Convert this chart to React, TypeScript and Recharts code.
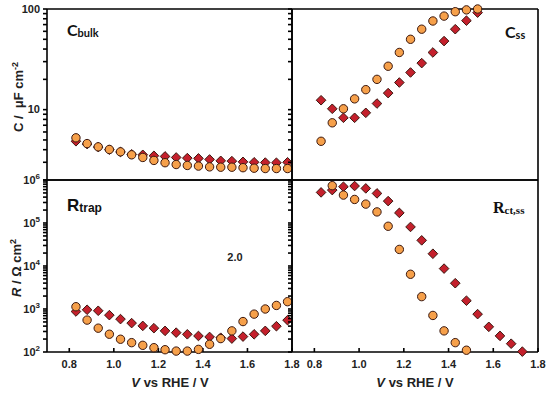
import { ScatterChart, Scatter, XAxis, YAxis } from "recharts";

// applied potential, V vs RHE
const V = [0.83, 0.88, 0.93, 0.98, 1.03, 1.08, 1.13, 1.18, 1.23, 1.28, 1.33, 1.38, 1.43, 1.48, 1.53, 1.58, 1.63, 1.68, 1.73, 1.78];

// capacitances, uF cm-2
const cBulkCircle = [5.25, 4.6, 4.27, 4.02, 3.81, 3.56, 3.35, 3.13, 2.97, 2.85, 2.79, 2.75, 2.7, 2.68, 2.68, 2.65, 2.62, 2.6, 2.6, 2.6];
const cBulkDiamond = [4.85, 4.55, 4.25, 4.0, 3.8, 3.6, 3.56, 3.48, 3.43, 3.35, 3.3, 3.28, 3.2, 3.1, 3.08, 3.03, 3.0, 2.98, 2.97, 3.0];
const cSsCircle = [4.85, 7.4, 10.2, 12.8, 15.8, 20, 27, 37, 50, 63, 76, 85, 94, 98, 100];
const cSsDiamond = [12.4, 10.2, 8.3, 8.3, 9.3, 11.5, 14.6, 18.6, 23.4, 29, 37, 48, 63, 76.6, 92];

// resistances, Ohm cm2
const rTrapCircle = [1130, 552, 358, 259, 198, 165, 143, 126, 113, 105, 105, 115, 151, 205, 310, 510, 760, 1000, 1210, 1480];
const rTrapDiamond = [875, 960, 910, 720, 582, 470, 405, 358, 310, 282, 258, 236, 224, 215, 205, 228, 258, 310, 398, 550];
const rCtCircle = [null, 738000, 446000, 353000, 275000, 181000, 84000, 24300, 6420, 1940, 708, 310, 165, 110];
const rCtDiamond = [515000, 583000, 698000, 724000, 638000, 488000, 323000, 172000, 81000, 39500, 19300, 8700, 3980, 1560, 760, 385, 237, 156, 102];

const xTicks = [0.8, 1.0, 1.2, 1.4, 1.6, 1.8];
const cTicks = [2, 3, 4, 5, 6, 7, 8, 9, 10, 20, 30, 40, 50, 60, 70, 80, 90, 100];
const rTicks = [
  100, 200, 300, 400, 500, 600, 700, 800, 900,
  1e3, 2e3, 3e3, 4e3, 5e3, 6e3, 7e3, 8e3, 9e3,
  1e4, 2e4, 3e4, 4e4, 5e4, 6e4, 7e4, 8e4, 9e4,
  1e5, 2e5, 3e5, 4e5, 5e5, 6e5, 7e5, 8e5, 9e5, 1e6,
];

const ORANGE = "#F6A04A";
const RED = "#C4202C";
const EDGE = "#3a1810";
const FONT = "'Liberation Sans', Arial, sans-serif";

const toPoints = (ys: (number | null)[]) =>
  ys.map((y, i) => ({ x: V[i], y })).filter((d) => d.y != null);

const Dot = (p: any) => <circle cx={p.cx} cy={p.cy} r={4.2} fill={ORANGE} stroke={EDGE} strokeWidth={1} />;
const Diamond = (p: any) => (
  <polygon
    points={`${p.cx},${p.cy - 4.8} ${p.cx + 4.8},${p.cy} ${p.cx},${p.cy + 4.8} ${p.cx - 4.8},${p.cy}`}
    fill={RED}
    stroke={EDGE}
    strokeWidth={1}
  />
);

const isDecade = (v: number) => Math.abs(Math.log10(v) - Math.round(Math.log10(v))) < 1e-6;

const plainTick = (p: any) =>
  isDecade(p.payload.value) ? (
    <text x={p.x} y={p.y} dy="0.35em" textAnchor="end" fontFamily={FONT} fontWeight="bold" fontSize={11} fill="#222">
      {p.payload.value}
    </text>
  ) : (
    <g />
  );

const powerTick = (p: any) =>
  isDecade(p.payload.value) ? (
    <text x={p.x} y={p.y} dy="0.35em" textAnchor="end" fontFamily={FONT} fontWeight="bold" fontSize={11} fill="#222">
      <tspan>10</tspan>
      <tspan dy={-5} fontSize={8}>{Math.round(Math.log10(p.payload.value))}</tspan>
    </text>
  ) : (
    <g />
  );

const noTick = () => <g />;

const xTickLabel = (p: any) => (
  <text x={p.x} y={p.y} dy="0.71em" textAnchor="middle" fontFamily={FONT} fontWeight="bold" fontSize={11} fill="#222">
    {p.payload.value.toFixed(1)}
  </text>
);

type PanelProps = {
  left: boolean;
  top: boolean;
  circles: { x: number; y: number | null }[];
  diamonds: { x: number; y: number | null }[];
};

// each panel is a full-size chart laid over the others; the margins place its plot area
function Panel({ left, top, circles, diamonds }: PanelProps) {
  const yDomain = top ? [2, 100] : [100, 1e6];
  const yTicks = top ? cTicks : rTicks;
  const margin = {
    top: top ? 8 : 179,
    bottom: top ? 215 : 0,
    left: left ? 0 : 291,
    right: left ? 257 : 11,
  };
  return (
    <div style={{ position: "absolute", left: 0, top: 0 }}>
      <ScatterChart width={550} height={396} margin={margin}>
        <XAxis
          dataKey="x"
          type="number"
          domain={[0.7, 1.8]}
          ticks={xTicks}
          height={top ? 1 : 44}
          stroke="#000"
          strokeWidth={1.6}
          axisLine
          tickLine={!top}
          tickSize={-4}
          tickMargin={12}
          tick={top ? false : xTickLabel}
        />
        <XAxis
          xAxisId="top"
          orientation="top"
          type="number"
          domain={[0.7, 1.8]}
          ticks={xTicks}
          height={1}
          stroke="#000"
          strokeWidth={1.6}
          axisLine
          tickLine={!top}
          tickSize={-4}
          tick={false}
        />
        <YAxis
          dataKey="y"
          type="number"
          scale="log"
          domain={yDomain}
          ticks={yTicks}
          interval={0}
          width={left ? 47 : 1}
          stroke="#000"
          strokeWidth={1.6}
          axisLine
          tickLine
          tickSize={4}
          tickMargin={3}
          tick={left ? (top ? plainTick : powerTick) : noTick}
        />
        <YAxis
          yAxisId="right"
          orientation="right"
          type="number"
          domain={[0, 1]}
          width={1}
          stroke="#000"
          strokeWidth={1.6}
          axisLine
          tickLine={false}
          tick={false}
        />
        <Scatter data={diamonds} shape={Diamond} isAnimationActive={false} />
        <Scatter data={circles} shape={Dot} isAnimationActive={false} />
      </ScatterChart>
    </div>
  );
}

export default function App() {
  const txt = { fontFamily: FONT, fontWeight: "bold" as const, fill: "#222" };
  return (
    <div style={{ position: "absolute", left: 0, top: 0, width: 550, height: 396, background: "#fff" }}>
      <Panel left top circles={toPoints(cBulkCircle)} diamonds={toPoints(cBulkDiamond)} />
      <Panel left={false} top circles={toPoints(cSsCircle)} diamonds={toPoints(cSsDiamond)} />
      <Panel left top={false} circles={toPoints(rTrapCircle)} diamonds={toPoints(rTrapDiamond)} />
      <Panel left={false} top={false} circles={toPoints(rCtCircle)} diamonds={toPoints(rCtDiamond)} />
      <svg width={550} height={396} style={{ position: "absolute", left: 0, top: 0, pointerEvents: "none" }}>
        <text x={67} y={36} fontFamily="Lato, 'Open Sans', sans-serif" fontWeight="bold" fill="#111">
          <tspan fontSize={16}>C</tspan>
          <tspan fontSize={11} dy={1}>bulk</tspan>
        </text>
        <text x={505} y={38} fontFamily="Lato, 'Open Sans', sans-serif" fontWeight="bold" fill="#111">
          <tspan fontSize={16}>C</tspan>
          <tspan fontSize={11} dy={1}>ss</tspan>
        </text>
        <text x={67} y={211} {...txt} fill="#111">
          <tspan fontSize={17}>R</tspan>
          <tspan fontSize={12} dy={1}>trap</tspan>
        </text>
        <text x={493} y={213} fontFamily="'Liberation Serif', serif" fontWeight="bold" fill="#111">
          <tspan fontSize={16}>R</tspan>
          <tspan fontSize={11} dy={1}>ct,ss</tspan>
        </text>
        <text x={235} y={261} textAnchor="middle" {...txt} fontSize={11}>2.0</text>
        <text transform="translate(23,97) rotate(-90)" textAnchor="middle" {...txt} fontSize={13}>
          <tspan>{"C /\u00a0 μF cm"}</tspan>
          <tspan dy={-5} fontSize={9}>-2</tspan>
        </text>
        <text transform="translate(21,268) rotate(-90)" textAnchor="middle" {...txt} fontSize={13}>
          <tspan fontStyle="italic">R</tspan>
          <tspan> / Ω cm</tspan>
          <tspan dy={-5} fontSize={9}>2</tspan>
        </text>
        <text x={170} y={387} textAnchor="middle" {...txt} fontSize={13}>
          <tspan fontStyle="italic">V</tspan>
          <tspan> vs RHE / V</tspan>
        </text>
        <text x={415} y={387} textAnchor="middle" {...txt} fontSize={13}>
          <tspan fontStyle="italic">V</tspan>
          <tspan> vs RHE / V</tspan>
        </text>
      </svg>
    </div>
  );
}
